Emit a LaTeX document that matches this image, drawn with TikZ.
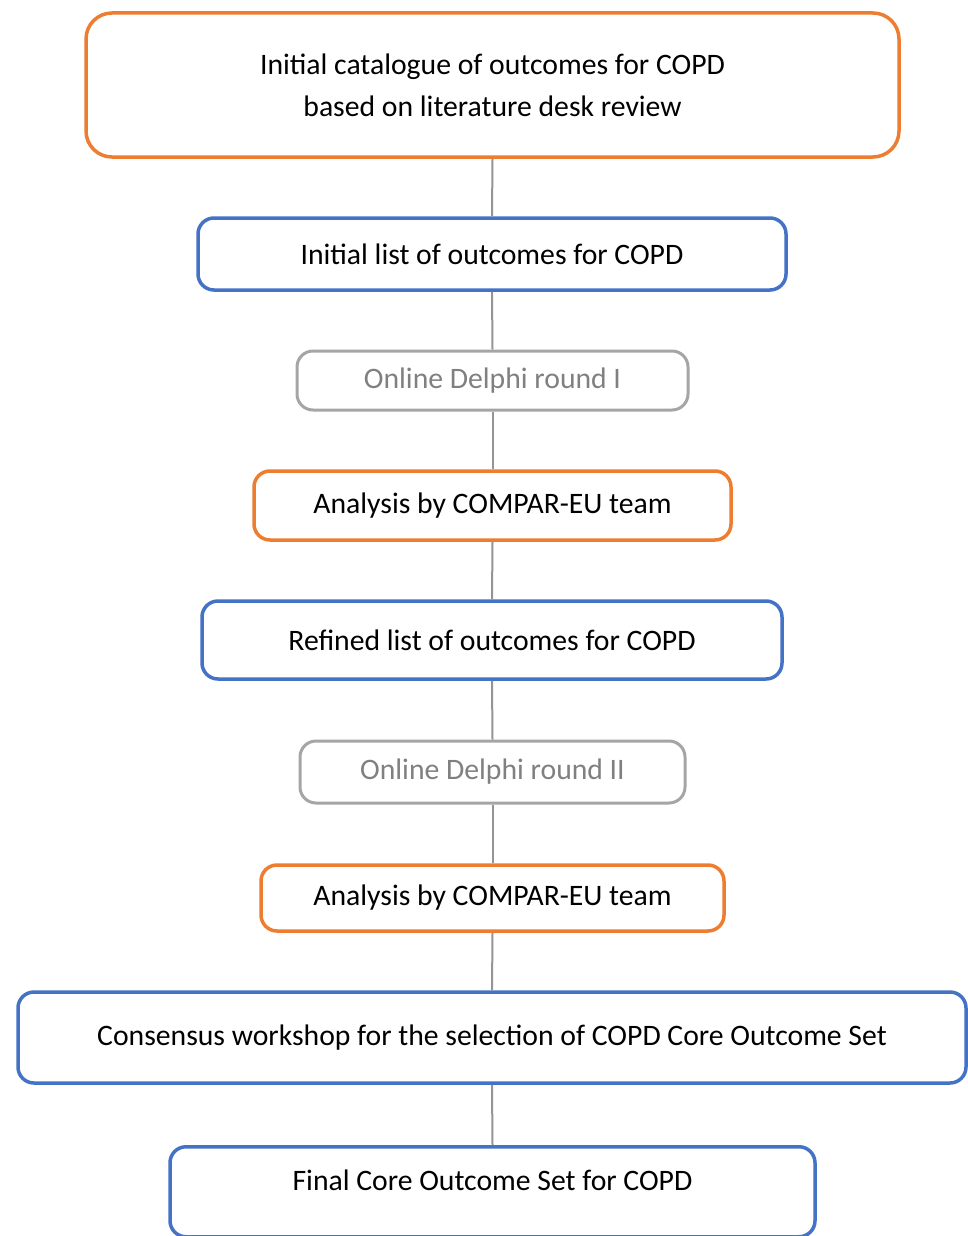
\documentclass[tikz,border=0pt]{standalone}
\usepackage{fontspec}
\setmainfont{Carlito}
\definecolor{corange}{HTML}{ED7D31}
\definecolor{cblue}{HTML}{4472C4}
\definecolor{cgray}{HTML}{A5A5A5}
\definecolor{tgray}{HTML}{808080}
\begin{document}
\begin{tikzpicture}[x=1pt,y=-1pt,
  box/.style={rounded corners=16pt, line width=3.5pt, fill=white, inner sep=0pt, align=center,
    font=\fontsize{29.7}{42}\selectfont, text=black},
  obox/.style={box, draw=corange},
  bbox/.style={box, draw=cblue},
  gbox/.style={box, draw=cgray, line width=3pt, text=tgray},
  link/.style={draw=cgray!90!black, line width=2pt}]
\useasboundingbox (0,0) rectangle (968,1236);
\begin{scope}
\clip (0,0) rectangle (968,1236);
\node[obox, minimum width=813pt, minimum height=144pt, rounded corners=26pt] (n1) at (492.5,85) {Initial catalogue of outcomes for COPD\\based on literature desk review};
\node[bbox, minimum width=588pt, minimum height=72pt] (n2) at (492,254) {Initial list of outcomes for COPD};
\node[gbox, minimum width=391pt, minimum height=59pt] (n3) at (492.5,380.5) {Online Delphi round I};
\node[obox, minimum width=477pt, minimum height=69pt] (n4) at (492.5,505.5) {Analysis by COMPAR-EU team};
\node[bbox, minimum width=580pt, minimum height=78pt] (n5) at (492,640) {Refined list of outcomes for COPD};
\node[gbox, minimum width=385pt, minimum height=62pt] (n6) at (492.5,772) {Online Delphi round II};
\node[obox, minimum width=463pt, minimum height=66pt] (n7) at (492.5,898) {Analysis by COMPAR-EU team};
\node[bbox, minimum width=948pt, minimum height=91pt] (n8) at (492,1037.5) {Consensus workshop for the selection of COPD Core Outcome Set};
\node[bbox, minimum width=645pt, minimum height=90pt, anchor=north] (n9) at (492.5,1145) {};
\node[font=\fontsize{29.7}{36}\selectfont] (t9) at (492.5,1180) {Final Core Outcome Set for COPD};
\end{scope}
\draw[link] (n1.south) -- (n2.north);
\draw[link] (n2.south) -- (n3.north);
\draw[link] (n3.south) -- (n4.north);
\draw[link] (n4.south) -- (n5.north);
\draw[link] (n5.south) -- (n6.north);
\draw[link] (n6.south) -- (n7.north);
\draw[link] (n7.south) -- (n8.north);
\draw[link] (n8.south) -- (n9.north);
\end{tikzpicture}
\end{document}
